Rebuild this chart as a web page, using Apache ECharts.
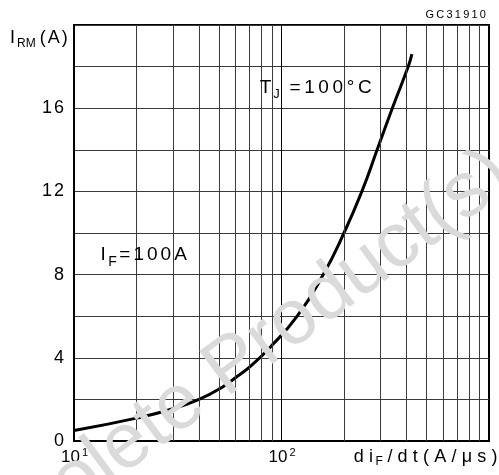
<!DOCTYPE html>
<html>
<head>
<meta charset="utf-8">
<script src="https://cdn.jsdelivr.net/npm/echarts@6/dist/echarts.min.js"></script>
<style>
  html, body { margin: 0; padding: 0; background: #fff; }
  #chart { width: 499px; height: 475px; }
</style>
</head>
<body>
<div id="chart"></div>
<script>
// Reverse recovery current vs. current slope, IF = 100 A, TJ = 100 °C
const rateValues    = [10, 20, 30, 40, 52, 62, 71, 88, 119, 159, 200, 244, 289, 342, 408, 425];
const currentValues = [0.5, 1.1, 1.55, 2.0, 2.6, 3.15, 3.6, 4.5, 6.0, 8.0, 10.0, 12.0, 14.0, 16.0, 18.0, 18.6];

// Logarithmic minor grid (2..9 within each decade)
const minorGrid = [20, 30, 40, 50, 60, 70, 80, 90, 200, 300, 400, 500, 600, 700, 800, 900];
// Labelled y ticks and decade exponents for x labels
const yTickLabels = [0, 4, 8, 12, 16];
const xDecadeLabels = { 10: '1', 100: '2' };

const FONT = '"Liberation Sans", Arial, sans-serif';
const INK = '#000';
const GRID_INK = '#3a3a3a';

// wrap every character in its own rich token so it can carry extra spacing
function spaced(str, key) {
  return str.split('').map(c => '{' + key + '|' + c + '}').join('');
}

const chart = echarts.init(document.getElementById('chart'), null, { renderer: 'canvas' });

const option = {
  backgroundColor: '#fff',
  animation: false,
  grid: {
    left: 74, right: 10, top: 25, bottom: 34,
    show: true, borderColor: INK, borderWidth: 2, backgroundColor: 'transparent'
  },
  xAxis: {
    type: 'log',
    logBase: 10,
    min: 10,
    max: 1000,
    axisLine: { show: true, onZero: false, lineStyle: { color: INK, width: 2 } },
    axisTick: { show: false },
    splitLine: { show: true, lineStyle: { color: INK, width: 1 } },
    axisLabel: {
      margin: 6,
      color: INK,
      fontFamily: FONT,
      fontSize: 17,
      formatter: function (v) {
        const e = xDecadeLabels[Math.round(v)];
        return e ? '{b|10}{s|' + e + '}' : '';
      },
      rich: {
        b: { fontSize: 17, fontFamily: FONT, color: INK, padding: [0, 1] },
        s: { fontSize: 11, fontFamily: FONT, color: INK, padding: [0, 0, 10, 1] }
      }
    }
  },
  yAxis: {
    type: 'value',
    min: 0,
    max: 20,
    interval: 2,
    axisLine: { show: true, lineStyle: { color: INK, width: 2 } },
    axisTick: { show: false },
    splitLine: { show: true, lineStyle: { color: GRID_INK, width: 1 } },
    axisLabel: {
      margin: 9,
      color: INK,
      fontFamily: FONT,
      fontSize: 18,
      formatter: function (v) {
        return yTickLabels.indexOf(v) >= 0 ? spaced(String(v), 'd') : '';
      },
      rich: { d: { fontSize: 18, fontFamily: FONT, color: INK, padding: [0, 1] } }
    }
  },
  series: [
    {
      // minor vertical grid of the log scale
      type: 'line',
      data: [],
      silent: true,
      z: 1,
      markLine: {
        silent: true,
        symbol: ['none', 'none'],
        label: { show: false },
        lineStyle: { color: GRID_INK, width: 1, type: 'solid' },
        emphasis: { disabled: true },
        data: minorGrid.map(v => ({ xAxis: v }))
      }
    },
    {
      type: 'line',
      z: 3,
      data: rateValues.map((x, i) => [x, currentValues[i]]),
      showSymbol: false,
      smooth: 0.5,
      lineStyle: { color: INK, width: 3 }
    }
  ],
  graphic: [
    {
      type: 'text', z: 50,
      x: 487, y: 15,
      style: {
        text: spaced('GC31910', 'g'),
        align: 'right', verticalAlign: 'middle',
        rich: { g: { fontSize: 11, fontFamily: FONT, fill: INK, padding: [0, 1.1] } }
      }
    },
    {
      type: 'text', z: 50,
      x: 9, y: 38,
      style: {
        text: '{m|I}{sub|RM}' + spaced('(A)', 'm'),
        align: 'left', verticalAlign: 'middle',
        rich: {
          m: { fontSize: 18, fontFamily: FONT, fill: INK, padding: [0, 1] },
          sub: { fontSize: 12, fontFamily: FONT, fill: INK, padding: [12, 3, 0, 1] }
        }
      }
    },
    {
      type: 'text', z: 50,
      x: 258, y: 88,
      style: {
        text: '{m|T}{sub|J}' + spaced('=100°C', 'm'),
        align: 'left', verticalAlign: 'middle',
        rich: {
          m: { fontSize: 19, fontFamily: FONT, fill: INK, padding: [0, 1.8] },
          sub: { fontSize: 13, fontFamily: FONT, fill: INK, padding: [12, 8, 0, 0] }
        }
      }
    },
    {
      type: 'text', z: 50,
      x: 99, y: 255,
      style: {
        text: '{m|I}{sub|F}' + spaced('=100A', 'm'),
        align: 'left', verticalAlign: 'middle',
        rich: {
          m: { fontSize: 19, fontFamily: FONT, fill: INK, padding: [0, 1.5] },
          sub: { fontSize: 14, fontFamily: FONT, fill: INK, padding: [14, 1, 0, 1] }
        }
      }
    },
    {
      type: 'text', z: 50,
      x: 500, y: 457,
      style: {
        text: spaced('di', 'm') + '{sub|F}' + spaced('/dt(A/μs)', 'm'),
        align: 'right', verticalAlign: 'middle',
        rich: {
          m: { fontSize: 18, fontFamily: FONT, fill: INK, padding: [0, 2.6] },
          sub: { fontSize: 12, fontFamily: FONT, fill: INK, padding: [10, 2, 0, 0] }
        }
      }
    },
    {
      // status stamp across the plot
      type: 'text', z: 100,
      x: -78, y: 548,
      rotation: 36.5 * Math.PI / 180,
      style: {
        text: 'Obsolete Product(s)',
        align: 'left', verticalAlign: 'alphabetic',
        font: '78px ' + FONT,
        fill: '#dadada'
      }
    }
  ]
};

chart.setOption(option);
</script>
</body>
</html>
